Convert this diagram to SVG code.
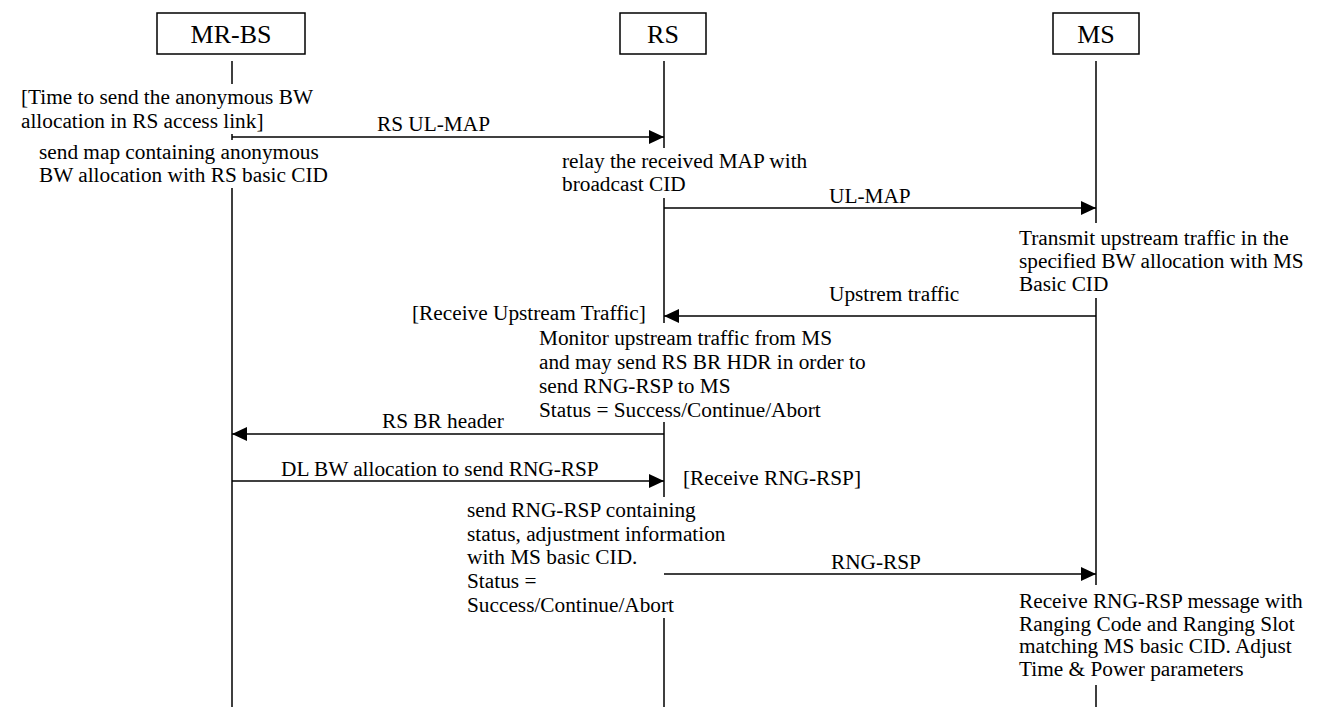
<svg xmlns="http://www.w3.org/2000/svg" width="1325" height="707" viewBox="0 0 1325 707">
<style>
  .box { fill: #fff; stroke: #000; stroke-width: 1.5; }
  .life { stroke: #000; stroke-width: 1.5; fill: none; }
  .msg { stroke: #000; stroke-width: 1.5; fill: none; marker-end: url(#ah); }
  text { font-family: 'Liberation Serif', 'Times New Roman', Times, serif; fill: #000; }
  .t { font-size: 21.3px; }
  .h { font-size: 26px; text-anchor: middle; }
</style>
<defs>
  <marker id="ah" markerUnits="userSpaceOnUse" markerWidth="16" markerHeight="14" refX="15" refY="7" orient="auto">
    <path d="M0,0 L15,7 L0,14 Z" fill="#000"/>
  </marker>
</defs>
<rect width="1325" height="707" fill="#fff"/>

<g id="node-mrbs">
  <rect class="box" x="157" y="13" width="148" height="41"/>
  <text class="h" x="231" y="43">MR-BS</text>
</g>
<g id="node-rs">
  <rect class="box" x="620" y="13" width="86" height="41"/>
  <text class="h" x="663" y="43">RS</text>
</g>
<g id="node-ms">
  <rect class="box" x="1053" y="13" width="86" height="41"/>
  <text class="h" x="1096" y="43">MS</text>
</g>

<g id="lifelines">
  <path class="life" d="M232,61 V84 M232,134 V140 M232,188 V707"/>
  <path class="life" d="M664,61 V148 M664,198 V323 M664,422 V497 M664,618 V707"/>
  <path class="life" d="M1096,61 V223 M1096,298 V585 M1096,685 V707"/>
</g>

<g id="connectors">
  <line class="msg" x1="232" y1="137" x2="664" y2="137"/>
  <line class="msg" x1="664" y1="208" x2="1096" y2="208"/>
  <line class="msg" x1="1096" y1="316" x2="664" y2="316"/>
  <line class="msg" x1="664" y1="434" x2="232" y2="434"/>
  <line class="msg" x1="232" y1="481" x2="664" y2="481"/>
  <line class="msg" x1="664" y1="574" x2="1096" y2="574"/>
  <text class="t" x="377" y="131">RS UL-MAP</text>
  <text class="t" x="829" y="203">UL-MAP</text>
  <text class="t" x="829" y="301">Upstrem traffic</text>
  <text class="t" x="382" y="428">RS BR header</text>
  <text class="t" x="281" y="476">DL BW allocation to send RNG-RSP</text>
  <text class="t" x="831" y="569">RNG-RSP</text>
</g>

<g id="notes">
  <text class="t" x="21" y="104">[Time to send the anonymous BW</text>
  <text class="t" x="21" y="128">allocation in RS access link]</text>
  <text class="t" x="39" y="159">send map containing anonymous</text>
  <text class="t" x="39" y="182">BW allocation with RS basic CID</text>

  <text class="t" x="562" y="168">relay the received MAP with</text>
  <text class="t" x="562" y="191">broadcast CID</text>

  <text class="t" x="1019" y="245">Transmit upstream traffic in the</text>
  <text class="t" x="1019" y="268">specified BW allocation with MS</text>
  <text class="t" x="1019" y="291">Basic CID</text>

  <text class="t" x="412" y="320">[Receive Upstream Traffic]</text>

  <text class="t" x="539" y="345">Monitor upstream traffic from MS</text>
  <text class="t" x="539" y="369">and may send RS BR HDR in order to</text>
  <text class="t" x="539" y="393">send RNG-RSP to MS</text>
  <text class="t" x="539" y="417">Status = Success/Continue/Abort</text>

  <text class="t" x="683" y="485">[Receive RNG-RSP]</text>

  <text class="t" x="467" y="517">send RNG-RSP containing</text>
  <text class="t" x="467" y="541">status, adjustment information</text>
  <text class="t" x="467" y="564">with MS basic CID.</text>
  <text class="t" x="467" y="588">Status =</text>
  <text class="t" x="467" y="612">Success/Continue/Abort</text>

  <text class="t" x="1019" y="608">Receive RNG-RSP message with</text>
  <text class="t" x="1019" y="631">Ranging Code and Ranging Slot</text>
  <text class="t" x="1019" y="653">matching MS basic CID. Adjust</text>
  <text class="t" x="1019" y="676">Time &amp; Power parameters</text>
</g>
</svg>
